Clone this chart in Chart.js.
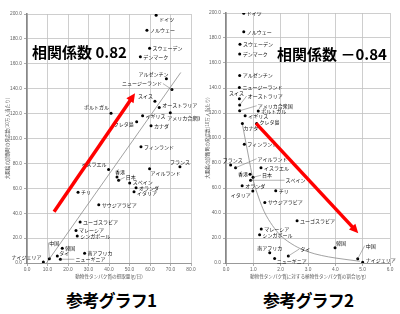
<!DOCTYPE html>
<html>
<head>
<meta charset="utf-8">
<script src="https://cdn.jsdelivr.net/npm/chart.js@4.4.0/dist/chart.umd.min.js"></script>
<style>
body { margin: 0; background: #fff; }
#wrap { position: relative; width: 400px; height: 314px; overflow: hidden; font-family: "Noto Sans CJK JP", sans-serif; }
canvas { position: absolute; top: 0; }
.big { position: absolute; font-weight: bold; font-size: 15px; line-height: 1; white-space: nowrap; color: #000; }
.ttl { position: absolute; top: 291px; font-weight: bold; font-size: 17px; line-height: 1; white-space: nowrap; color: #000; letter-spacing: -0.8px; }
</style>
</head>
<body>
<div id="wrap">
  <canvas id="chart1" width="200" height="282" style="left:0"></canvas>
  <canvas id="chart2" width="200" height="282" style="left:200px"></canvas>
  <div class="big" style="left:32px; top:44px">相関係数 0.82</div>
  <div class="big" style="left:277px; top:46px">相関係数 －0.84</div>
  <div class="ttl" style="left:66px">参考グラフ1</div>
  <div class="ttl" style="left:263px">参考グラフ2</div>
</div>
<script>
// 参考グラフ1: 動物性タンパク質の摂取量 vs 大腸癌
const names1 = ['ドイツ', 'ノルウェー', 'スウェーデン', 'デンマーク', 'アルゼンチン', 'ニュージーランド', 'スイス', 'オーストラリア',
  'ポルトガル', 'アメリカ合衆国', 'イギリス', 'クレタ島', 'カナダ', 'フィンランド', 'フランス', 'イスラエル', 'アイルランド',
  '香港', '日本', 'スペイン', 'オランダ', 'イタリア', 'チリ', 'サウジアラビア', 'ユーゴスラビア', 'マレーシア', 'シンガポール',
  '韓国', '中国', 'タイ', 'ニューギニア', '南アフリカ', 'ナイジェリア'];
const animal1 = [63, 58.5, 59.8, 55.3, 68, 70.7, 62.4, 64.5, 41, 69.9, 56.4, 53.5, 60.5, 55.6, 74.6, 39.8, 59.8,
  43.9, 44.7, 50.1, 53.2, 52.2, 24.9, 35, 25.9, 23.9, 24.5, 17.2, 10.9, 14.8, 16.3, 28.1, 8];
const rate1 = [199, 187, 172.4, 165.7, 148, 139.3, 129.9, 124.8, 120.2, 120.7, 118.3, 113.5, 110.3, 93.4, 77.3, 75.2, 75.7,
  69, 66.4, 64.3, 60.5, 57.3, 56.8, 46.8, 32.9, 26.2, 21.7, 11.8, 3.5, 5.6, 3, 7.8, 0.8];
const trendX1 = [9.5, 75];
const trendY1 = [0, 153];
const arrowX1 = [13.2, 52.7];
const arrowY1 = [41.2, 136.3];
const ticksX1 = [0, 10, 20, 30, 40, 50, 60, 70, 80];

// 参考グラフ2: 動物性タンパク質に対する植物性タンパク質の割合 vs 大腸癌
const names2 = ['ドイツ', 'ノルウェー', 'スウェーデン', 'デンマーク', 'アルゼンチン', 'ニュージーランド', 'スイス', 'オーストラリア',
  'アメリカ合衆国', 'ポルトガル', 'イギリス', 'カナダ', 'クレタ島', 'フィンランド', 'フランス', 'アイルランド', 'イスラエル',
  '香港', '日本', 'スペイン', 'オランダ', 'イタリア', 'チリ', 'サウジアラビア', 'ユーゴスラビア', 'マレーシア', 'シンガポール',
  '南アフリカ', 'ニューギニア', 'タイ', '韓国', '中国', 'ナイジェリア'];
const ratio2 = [0.65, 0.65, 0.51, 0.5, 0.5, 0.49, 0.49, 0.5, 0.5, 1.18, 0.7, 0.6, 1.12, 0.67, 0.17, 0.35, 1.28,
  0.88, 0.99, 0.9, 0.59, 0.98, 1.82, 1.42, 2.6, 1.29, 1.23, 1.6, 1.78, 2.28, 3.99, 4.82, 5.0];
const rate2 = [199.8, 185, 175, 167.2, 150, 140.5, 131.4, 126.4, 121.8, 121.6, 117.8, 111.7, 111.7, 95, 78.4, 76.2, 76.2,
  71, 68.6, 66.2, 61.9, 57.6, 57.8, 48.5, 33.9, 27.2, 22.6, 8.2, 3.7, 5.6, 12.3, 3.5, 0.6];
const curveX2 = [0.6, 0.8, 1.0, 1.2, 1.4, 1.7, 2.0, 2.5, 3.0, 3.5, 4.0, 4.5, 4.9];
const curveY2 = [111, 88, 66, 52, 41, 30, 22, 14, 9, 6, 4, 2.5, 1.4];
const arrowX2 = [1.1, 4.84];
const arrowY2 = [111.7, 23.8];
const ticksX2 = [0, 1, 2, 3, 4, 5, 6];
const ticksY = [0, 20, 40, 60, 80, 100, 120, 140, 160, 180, 200];

// ラベルの置き方 [揃え, dx, dy, 引き出し線]
const place1 = [['left',3,4],['left',3,0],['left',3,0],['left',3,0],['right',2,-5],['right',-10,-6,true],['right',-2,-5],['left',3,-3],
  ['right',-2,-6],['left',-3,5],['left',3,0],['right',-3,2],['left',3,0],['left',3,0],['center',0,-5],['right',-2,-5],['left',1,4],
  ['left',-2,-5],['left',7,-3,true],['left',3,-1],['left',3,0],['left',3,1],['left',3,0],['left',3,0],['left',3,0],['left',3,0],['left',3,0],
  ['left',3,0],['left',0,-16,true],['left',2,-3],['left',15,0,true],['left',3,0],['right',-2,-5]];
const place2 = [['left',3,0],['left',3,0],['left',3,0],['left',3,0],['left',3,0],['left',3,0],['center',-3,-6],['left',8,-9,true],
  ['left',18,-5,true],['left',3,0],['left',3,0],['left',1,5],['left',3,-1],['left',3,0],['center',2,-5],['left',22,-9,true],['left',3,0],
  ['right',-2,0],['left',9,-2,true],['left',35,0,true],['left',3,0],['right',-2,4],['left',3,0],['left',3,0],['left',3,0],['left',3,0],['left',3,0],
  ['center',0,-5],['left',2,3],['left',12,-7,true],['left',1,-5],['left',8,-13,true],['left',3,-2]];

const yTitle = '大腸癌の診断時の発症数(10万人当たり)';

const ptLabels = {
  id: 'ptLabels',
  afterDatasetsDraw(chart, args, opts) {
    const ctx = chart.ctx;
    const xs = chart.scales.x, ys = chart.scales.y;
    ctx.save();
    ctx.font = '5px "Noto Sans CJK JP"';
    ctx.fillStyle = '#111';
    ctx.strokeStyle = '#666';
    ctx.lineWidth = 0.5;
    ctx.textBaseline = 'middle';
    opts.names.forEach((name, i) => {
      const px = xs.getPixelForValue(opts.xv[i]);
      const py = ys.getPixelForValue(opts.yv[i]);
      const p = opts.place[i];
      const tx = px + p[1], ty = py + p[2];
      ctx.textAlign = p[0];
      if (p[3]) {
        ctx.beginPath();
        ctx.moveTo(px, py);
        if (p[0] === 'left') ctx.lineTo(tx - 1, ty);
        else if (p[0] === 'right') ctx.lineTo(tx + 1, ty);
        else ctx.lineTo(tx, ty + 3);
        ctx.stroke();
      }
      ctx.fillText(name, tx, ty);
    });

    // 赤い矢印
    const x0 = xs.getPixelForValue(opts.ax[0]), y0 = ys.getPixelForValue(opts.ay[0]);
    const x1 = xs.getPixelForValue(opts.ax[1]), y1 = ys.getPixelForValue(opts.ay[1]);
    const ang = Math.atan2(y1 - y0, x1 - x0);
    const head = 10;
    ctx.strokeStyle = '#f00';
    ctx.fillStyle = '#f00';
    ctx.lineWidth = 3.5;
    ctx.beginPath();
    ctx.moveTo(x0, y0);
    ctx.lineTo(x1 - Math.cos(ang) * head * 0.8, y1 - Math.sin(ang) * head * 0.8);
    ctx.stroke();
    ctx.beginPath();
    ctx.moveTo(x1, y1);
    ctx.lineTo(x1 - head * Math.cos(ang - 0.45), y1 - head * Math.sin(ang - 0.45));
    ctx.lineTo(x1 - head * Math.cos(ang + 0.45), y1 - head * Math.sin(ang + 0.45));
    ctx.closePath();
    ctx.fill();
    ctx.restore();
  }
};

function makeChart(id, o) {
  const pts = o.xv.map((v, i) => ({ x: v, y: o.yv[i] }));
  const line = o.lx.map((v, i) => ({ x: v, y: o.ly[i] }));
  return new Chart(document.getElementById(id), {
    type: 'scatter',
    data: {
      datasets: [
        { data: pts, pointRadius: 1.5, pointBackgroundColor: '#000', pointBorderWidth: 0, order: 1 },
        { data: line, showLine: true, borderColor: '#8a8a8a', borderWidth: 0.8, pointRadius: 0,
          cubicInterpolationMode: 'monotone', order: 2 }
      ]
    },
    options: {
      responsive: false,
      animation: false,
      layout: { padding: { top: o.top, right: o.right, left: 0, bottom: 0 } },
      plugins: {
        legend: { display: false },
        tooltip: { enabled: false },
        ptLabels: { names: o.names, xv: o.xv, yv: o.yv, place: o.place, ax: o.ax, ay: o.ay }
      },
      scales: {
        x: {
          type: 'linear', min: o.ticksX[0], max: o.ticksX[o.ticksX.length - 1],
          afterBuildTicks: s => { s.ticks = o.ticksX.map(v => ({ value: v })); },
          ticks: { callback: v => v.toFixed(1), font: { size: 4.8, family: 'Liberation Sans' }, color: '#666', padding: 1, maxRotation: 0 },
          grid: { color: '#c2c2c2', lineWidth: 0.8, tickLength: 3, tickColor: '#999' },
          border: { color: '#999', width: 1 },
          title: { display: true, text: o.xTitle, font: { size: 4.6, family: 'Noto Sans CJK JP' }, color: '#555', padding: { top: 0, bottom: 2.5 } },
          afterFit: s => { s.height = 19; }
        },
        y: {
          min: 0, max: 200,
          afterBuildTicks: s => { s.ticks = ticksY.map(v => ({ value: v })); },
          ticks: { callback: v => v.toFixed(1), font: { size: 4.8, family: 'Liberation Sans' }, color: '#666', padding: 2 },
          grid: { color: '#c2c2c2', lineWidth: 0.8, tickLength: 3, tickColor: '#999' },
          border: { color: '#888', width: 1.6 },
          title: { display: true, text: yTitle, font: { size: 4.6, family: 'Noto Sans CJK JP' }, color: '#555', padding: { top: 4.5, bottom: 0 } },
          afterFit: s => { s.width = o.yw; }
        }
      }
    },
    plugins: [ptLabels]
  });
}

makeChart('chart1', {
  names: names1, xv: animal1, yv: rate1, place: place1, lx: trendX1, ly: trendY1,
  ax: arrowX1, ay: arrowY1, ticksX: ticksX1, top: 14, right: 9, yw: 27,
  xTitle: '動物性タンパク質の摂取量(g/日)'
});
makeChart('chart2', {
  names: names2, xv: ratio2, yv: rate2, place: place2, lx: curveX2, ly: curveY2,
  ax: arrowX2, ay: arrowY2, ticksX: ticksX2, top: 13, right: 10, yw: 26,
  xTitle: '動物性タンパク質に対する植物性タンパク質の割合(g/g)'
});
</script>
</body>
</html>
